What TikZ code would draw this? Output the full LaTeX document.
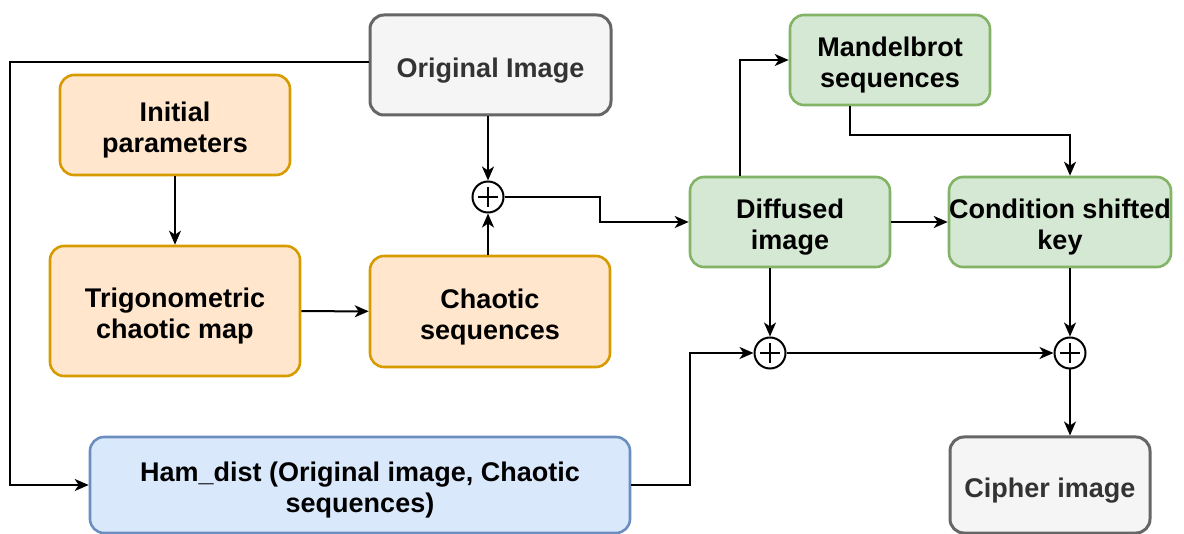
\documentclass[tikz,border=0pt]{standalone}
\usepackage{fontspec}
\setmainfont{Liberation Sans}
\usetikzlibrary{arrows.meta}
\definecolor{orfill}{HTML}{FFE6CC}\definecolor{orline}{HTML}{D79B00}
\definecolor{grfill}{HTML}{D5E8D4}\definecolor{grline}{HTML}{82B366}
\definecolor{blfill}{HTML}{DAE8FC}\definecolor{blline}{HTML}{6C8EBF}
\definecolor{gyfill}{HTML}{F5F5F5}\definecolor{gyline}{HTML}{666666}
\definecolor{gytext}{HTML}{333333}
% box label: centred lines, set a little below the box centre
\newcommand\boxtext[1]{\raisebox{0pt}[\dimexpr\height+12pt\relax]{\begin{tabular}{@{}c@{}}#1\end{tabular}}}
\tikzset{
  box/.style={draw, rounded corners=14pt, line width=2.6pt, inner sep=0pt,
    font=\fontsize{27}{31}\selectfont\bfseries},
  orbox/.style={box, fill=orfill, draw=orline},
  grbox/.style={box, fill=grfill, draw=grline},
  blbox/.style={box, fill=blfill, draw=blline},
  gybox/.style={box, fill=gyfill, draw=gyline, text=gytext, line width=3pt},
  xor/.style={circle, draw, line width=2pt, minimum size=31pt, inner sep=0pt,
    path picture={\draw[line width=2.2pt]
      ([xshift=-10pt]path picture bounding box.center) -- ([xshift=10pt]path picture bounding box.center)
      ([yshift=-10pt]path picture bounding box.center) -- ([yshift=10pt]path picture bounding box.center);}},
  link/.style={line width=2pt, -{Stealth[length=14pt,width=12pt,inset=4pt]}},
}
\begin{document}
\begin{tikzpicture}[x=1pt,y=-1pt]
\useasboundingbox (0,0) rectangle (1184,534);
% boxes
\node[gybox, minimum width=241pt, minimum height=100pt] (orig) at (490.5,65) {\boxtext{Original Image}};
\node[orbox, minimum width=230pt, minimum height=100pt] (init) at (175,125) {\boxtext{Initial\\parameters}};
\node[orbox, minimum width=250pt, minimum height=130pt] (trig) at (175,311) {\boxtext{Trigonometric\\chaotic map}};
\node[orbox, minimum width=240pt, minimum height=111pt] (chaos) at (490,311.5) {\boxtext{Chaotic\\sequences}};
\node[grbox, minimum width=200pt, minimum height=90pt] (diff) at (790,222) {\boxtext{Diffused\\image}};
\node[grbox, minimum width=200pt, minimum height=90pt] (mand) at (890,60) {\boxtext{Mandelbrot\\sequences}};
\node[grbox, minimum width=220pt, minimum height=90pt] (cond) at (1060,222) {\boxtext{Condition shifted\\key}};
\node[blbox, minimum width=540pt, minimum height=96pt] (ham) at (360,485) {\boxtext{Ham\_dist (Original image, Chaotic\\sequences)}};
\node[gybox, minimum width=200pt, minimum height=96pt] (ciph) at (1050,485) {\boxtext{Cipher image}};
% xor junctions
\node[xor] (x1) at (488,197) {};
\node[xor] (x2) at (770,353) {};
\node[xor] (x3) at (1070,353) {};
% connectors
\draw[link] (orig.west |- 0,62) -- (10,62) |- (ham.west);
\draw[link] (orig.south -| x1) -- (x1.north);
\draw[link] (chaos.north -| x1) -- (x1.south);
\draw[link] (init) -- (trig);
\draw[link] (trig) -- (chaos);
\draw[link] (x1.east) -- (600,197) |- (diff.west);
\draw[link] (diff.north -| 740,0) |- (mand.west);
\draw[link] (mand.south -| 850,0) |- (1070,135) -- (cond.north -| x3);
\draw[link] (diff) -- (cond);
\draw[link] (diff.south -| x2) -- (x2.north);
\draw[link] (ham.east) -| (690,420) |- (x2.west);
\draw[link] (x2) -- (x3);
\draw[link] (cond.south -| x3) -- (x3.north);
\draw[link] (x3.south) -- (ciph.north -| x3);
\end{tikzpicture}
\end{document}
